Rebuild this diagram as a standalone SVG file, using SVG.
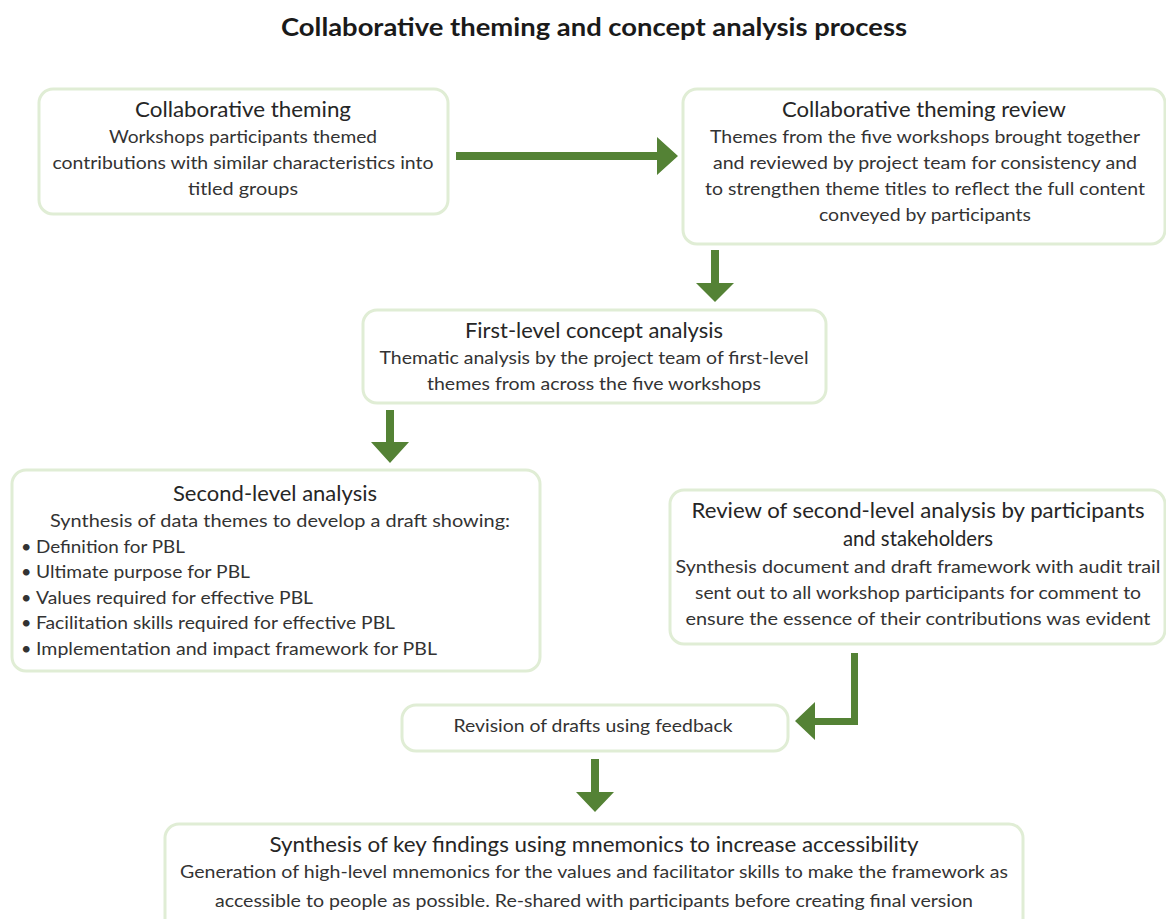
<svg xmlns="http://www.w3.org/2000/svg" width="1166" height="919" viewBox="0 0 1166 919">
  <style>
    .box { fill: #ffffff; stroke: #e0edd5; stroke-width: 3; }
    .head { font-family: Lato, "Open Sans", "Liberation Sans", sans-serif; font-size: 20.5px; fill: #262626; text-anchor: middle; }
    .body { font-family: Lato, "Open Sans", "Liberation Sans", sans-serif; font-size: 18px; fill: #333333; text-anchor: middle; }
    .left { text-anchor: start; }
    .title { font-family: Lato, "Open Sans", "Liberation Sans", sans-serif; font-size: 24px; font-weight: bold; fill: #1a1a1a; text-anchor: middle; }
    .arrow { fill: #548235; }
  </style>

  <rect width="1166" height="919" fill="#ffffff"/>

  <text class="title" x="594" y="36" textLength="626" lengthAdjust="spacingAndGlyphs">Collaborative theming and concept analysis process</text>

  <!-- Collaborative theming -->
  <g id="collab-theming">
    <rect class="box" x="39" y="89" width="409" height="125" rx="14"/>
    <text class="head" x="243" y="117" textLength="216" lengthAdjust="spacingAndGlyphs">Collaborative theming</text>
    <text class="body" x="243" y="143" textLength="268" lengthAdjust="spacingAndGlyphs">Workshops participants themed</text>
    <text class="body" x="243" y="169" textLength="381" lengthAdjust="spacingAndGlyphs">contributions with similar characteristics into</text>
    <text class="body" x="243" y="195" textLength="110" lengthAdjust="spacingAndGlyphs">titled groups</text>
  </g>

  <!-- Collaborative theming review -->
  <g id="theming-review">
    <rect class="box" x="683" y="89" width="482" height="155" rx="14"/>
    <text class="head" x="924" y="117" textLength="284" lengthAdjust="spacingAndGlyphs">Collaborative theming review</text>
    <text class="body" x="925" y="143" textLength="430" lengthAdjust="spacingAndGlyphs">Themes from the five workshops brought together</text>
    <text class="body" x="925" y="169" textLength="424" lengthAdjust="spacingAndGlyphs">and reviewed by project team for consistency and</text>
    <text class="body" x="925" y="195" textLength="440" lengthAdjust="spacingAndGlyphs">to strengthen theme titles to reflect the full content</text>
    <text class="body" x="925" y="221" textLength="212" lengthAdjust="spacingAndGlyphs">conveyed by participants</text>
  </g>

  <!-- First-level concept analysis -->
  <g id="first-level">
    <rect class="box" x="363" y="310" width="463" height="93" rx="14"/>
    <text class="head" x="594" y="338" textLength="258" lengthAdjust="spacingAndGlyphs">First-level concept analysis</text>
    <text class="body" x="594" y="364" textLength="429" lengthAdjust="spacingAndGlyphs">Thematic analysis by the project team of first-level</text>
    <text class="body" x="594" y="390" textLength="334" lengthAdjust="spacingAndGlyphs">themes from across the five workshops</text>
  </g>

  <!-- Second-level analysis -->
  <g id="second-level">
    <rect class="box" x="12" y="470" width="528" height="201" rx="14"/>
    <text class="head" x="275" y="501" textLength="204" lengthAdjust="spacingAndGlyphs">Second-level analysis</text>
    <text class="body" x="280" y="527" textLength="460" lengthAdjust="spacingAndGlyphs">Synthesis of data themes to develop a draft showing:</text>
    <text class="body left" y="553"><tspan x="21">•</tspan><tspan x="36" textLength="149" lengthAdjust="spacingAndGlyphs">Definition for PBL</tspan></text>
    <text class="body left" y="578"><tspan x="21">•</tspan><tspan x="36" textLength="214" lengthAdjust="spacingAndGlyphs">Ultimate purpose for PBL</tspan></text>
    <text class="body left" y="604"><tspan x="21">•</tspan><tspan x="36" textLength="277" lengthAdjust="spacingAndGlyphs">Values required for effective PBL</tspan></text>
    <text class="body left" y="629"><tspan x="21">•</tspan><tspan x="36" textLength="359" lengthAdjust="spacingAndGlyphs">Facilitation skills required for effective PBL</tspan></text>
    <text class="body left" y="655"><tspan x="21">•</tspan><tspan x="36" textLength="401" lengthAdjust="spacingAndGlyphs">Implementation and impact framework for PBL</tspan></text>
  </g>

  <!-- Review by participants and stakeholders -->
  <g id="stakeholder-review">
    <rect class="box" x="670" y="490" width="495" height="154" rx="14"/>
    <text class="head" x="918" y="518" textLength="453" lengthAdjust="spacingAndGlyphs">Review of second-level analysis by participants</text>
    <text class="head" x="918" y="546" textLength="150" lengthAdjust="spacingAndGlyphs">and stakeholders</text>
    <text class="body" x="918" y="573" textLength="485" lengthAdjust="spacingAndGlyphs">Synthesis document and draft framework with audit trail</text>
    <text class="body" x="918" y="599" textLength="446" lengthAdjust="spacingAndGlyphs">sent out to all workshop participants for comment to</text>
    <text class="body" x="918" y="625" textLength="465" lengthAdjust="spacingAndGlyphs">ensure the essence of their contributions was evident</text>
  </g>

  <!-- Revision of drafts -->
  <g id="revision">
    <rect class="box" x="402" y="705" width="386" height="46" rx="14"/>
    <text class="body" x="593" y="732" textLength="279" lengthAdjust="spacingAndGlyphs">Revision of drafts using feedback</text>
  </g>

  <!-- Synthesis of key findings -->
  <g id="key-findings">
    <rect class="box" x="165" y="824" width="858" height="120" rx="14"/>
    <text class="head" x="594" y="852" textLength="649" lengthAdjust="spacingAndGlyphs">Synthesis of key findings using mnemonics to increase accessibility</text>
    <text class="body" x="594" y="878" textLength="828" lengthAdjust="spacingAndGlyphs">Generation of high-level mnemonics for the values and facilitator skills to make the framework as</text>
    <text class="body" x="594" y="907" textLength="758" lengthAdjust="spacingAndGlyphs">accessible to people as possible. Re-shared with participants before creating final version</text>
  </g>

  <!-- Block arrows between steps -->
  <g id="connectors" class="arrow">
    <polygon points="456,152 657,152 657,137 678,156 657,175 657,160 456,160"/>
    <polygon points="711,250 719,250 719,283 734,283 715,302 696,283 711,283"/>
    <polygon points="386,410 394,410 394,442 409,442 390,463 371,442 386,442"/>
    <polygon points="851,653 858,653 858,725 815,725 815,740 795,721 815,702 815,718 851,718"/>
    <polygon points="591,759 599,759 599,792 614,792 595,812 576,792 591,792"/>
  </g>
</svg>
